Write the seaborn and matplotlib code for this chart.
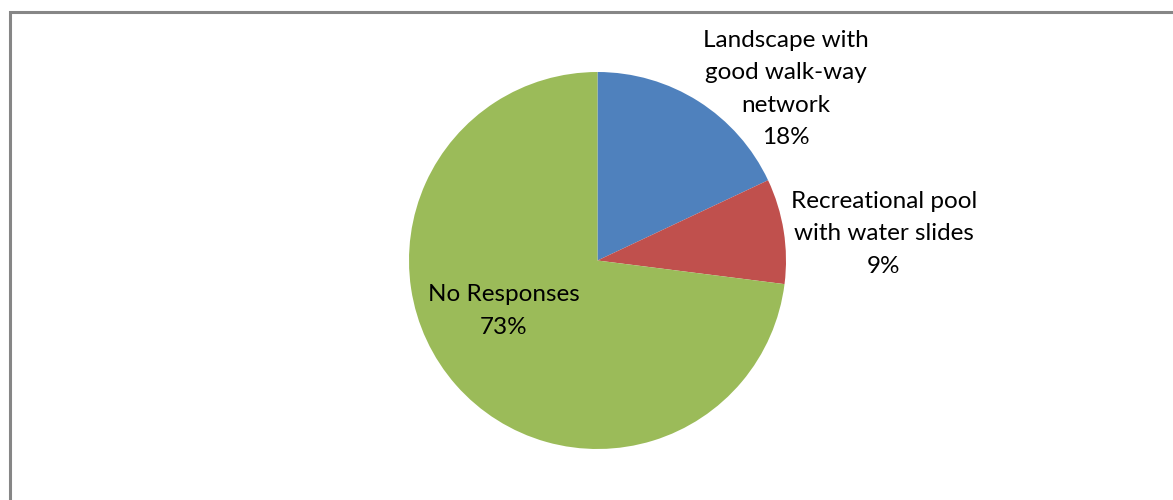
import matplotlib
matplotlib.use("Agg")
import matplotlib.pyplot as plt
from matplotlib.patches import Rectangle
import seaborn as sns

categories = ["Landscape with\ngood walk-way\nnetwork", "Recreational pool\nwith water slides", "No Responses"]
shares = [18, 9, 73]
colors = ["#4F81BD", "#C0504D", "#9BBB59"]

sns.set_theme(style="white")
plt.rcParams["font.family"] = ["Lato", "DejaVu Sans"]

W, H = 1173, 500
fig = plt.figure(figsize=(W / 100, H / 100), dpi=100)
ax = fig.add_axes([0, 0, 1, 1])
ax.set_xlim(0, W)
ax.set_ylim(0, H)
ax.axis("off")

# chart-area frame (top and left edges visible)
fig.patches.append(Rectangle((9.5 / W, -0.2), 1.2, 1.2 - 11.5 / H,
                             transform=fig.transFigure, fill=False,
                             edgecolor="#868686", linewidth=2.2))

center = (597.5, H - 260.5)
radius = 188.5
ax.pie(shares, colors=colors, startangle=90, counterclock=False,
       center=center, radius=radius, frame=True,
       wedgeprops=dict(linewidth=0))
ax.set_xlim(0, W)
ax.set_ylim(0, H)
ax.set_aspect("equal")
ax.axis("off")

labels = [f"{c}\n{v}%" for c, v in zip(categories, shares)]
label_pos = [(786, H - 89), (884, H - 234), (504, H - 311)]
for txt, (x, y) in zip(labels, label_pos):
    ax.text(x, y, txt, ha="center", va="center", fontsize=17.5,
            color="#000000", linespacing=1.65)

fig.savefig("out.png", dpi=100)
